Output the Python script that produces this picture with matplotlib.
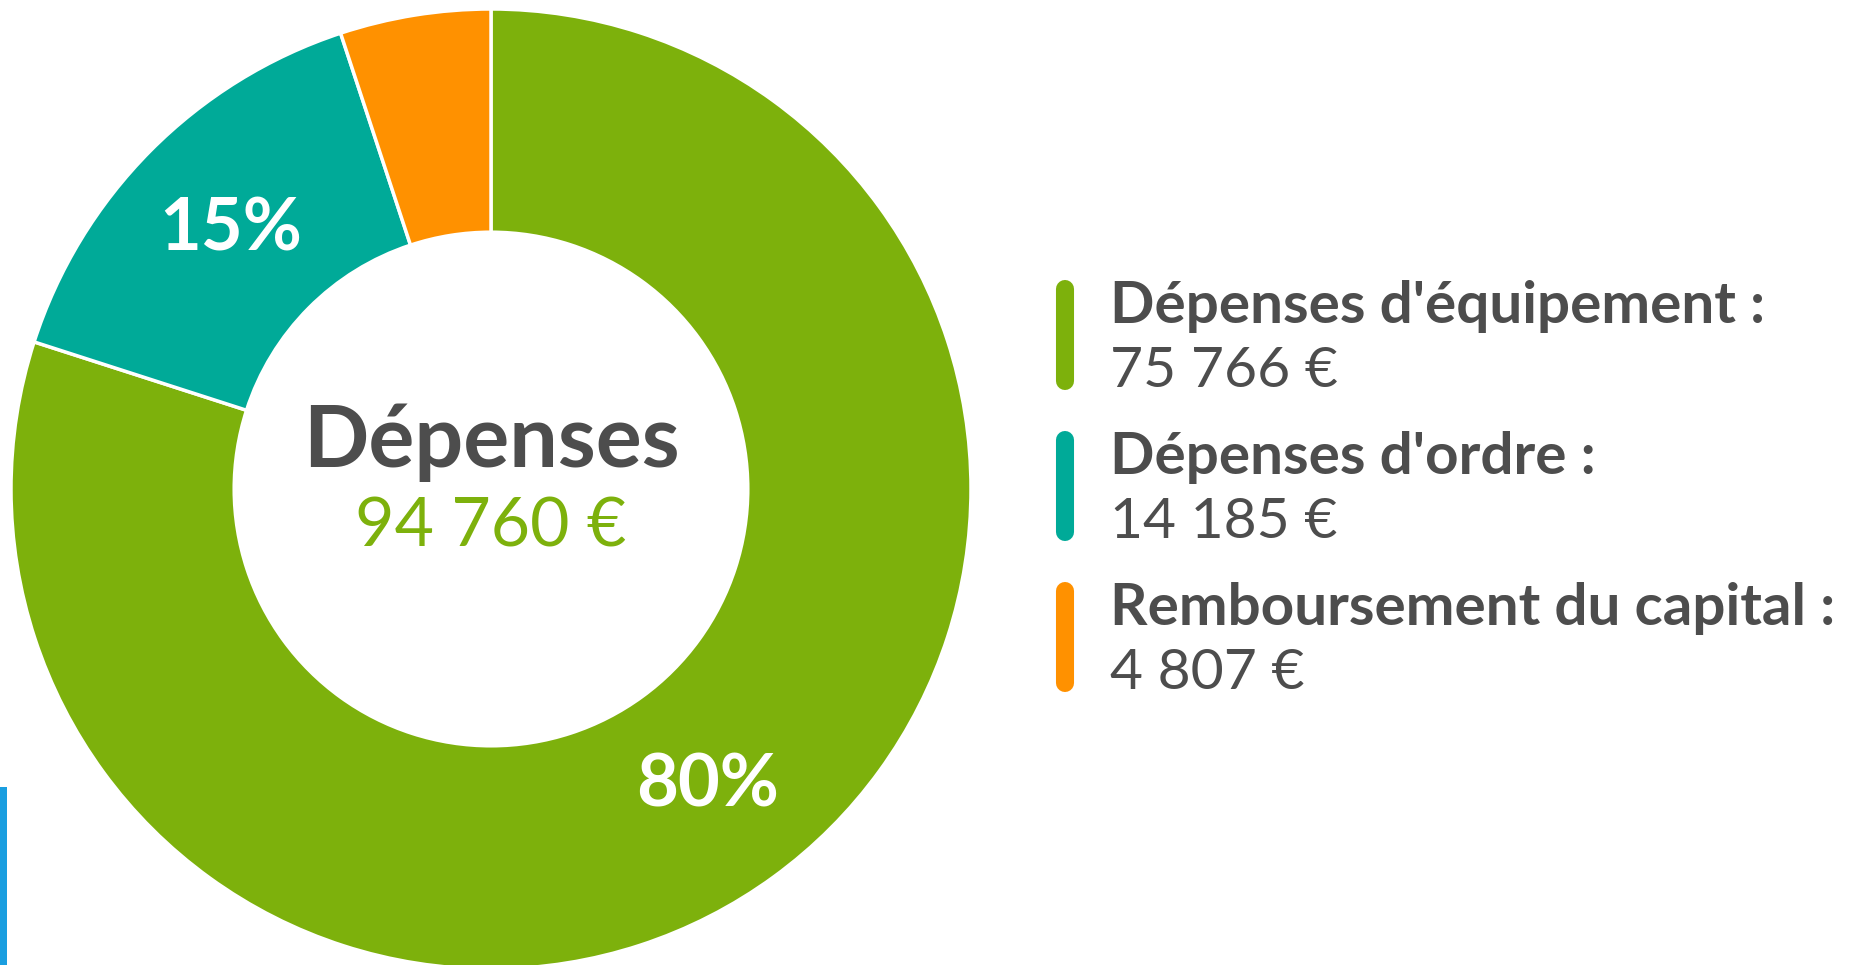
import numpy as np
import matplotlib
matplotlib.use("Agg")
import matplotlib.pyplot as plt
from matplotlib.lines import Line2D
from matplotlib.patches import Rectangle

plt.rcParams['font.family'] = ['Lato', 'DejaVu Sans']

# data
categories = ["Dépenses d'équipement", "Dépenses d'ordre", "Remboursement du capital"]
values = [75766, 14185, 4807]
value_labels = ["75 766 €", "14 185 €", "4 807 €"]
pct_labels = ["80%", "15%", ""]
colors = ["#7db10c", "#00aa98", "#ff9100"]
total_label = "94 760 €"

W, H = 1855, 965
fig = plt.figure(figsize=(W / 100, H / 100), dpi=100)
fig.patch.set_facecolor("white")

# donut
cx, cy, R = 491, 489, 480
ax = fig.add_axes([(cx - R) / W, (H - cy - R) / H, 2 * R / W, 2 * R / H])
ax.pie(values, colors=colors, startangle=90, counterclock=False, radius=1.0,
       wedgeprops=dict(width=0.465, edgecolor="white", linewidth=2.5))
ax.set_xlim(-1, 1)
ax.set_ylim(-1, 1)
ax.set_aspect("equal")
ax.axis("off")

# percentage labels at middle of the ring
fracs = np.array(values) / sum(values)
start = 90 - np.concatenate([[0], np.cumsum(fracs)[:-1]]) * 360
mid = np.deg2rad(start - fracs * 180)
for lab, a in zip(pct_labels, mid):
    if lab:
        ax.text(0.765 * np.cos(a), 0.765 * np.sin(a), lab, ha="center", va="center",
                color="white", fontsize=52, fontweight="bold")

# center text
ax.text(0, 0.045, "Dépenses", ha="center", va="baseline", color="#4d4d4d",
        fontsize=62, fontweight="bold")
ax.text(0, -0.12, total_label, ha="center", va="baseline", color=colors[0], fontsize=49)

# legend
x_bar, x_txt = 1065, 1110
top0, pitch = 280, 151
for i, (cat, val, col) in enumerate(zip(categories, value_labels, colors)):
    top = top0 + i * pitch
    fig.add_artist(Line2D([x_bar / W, x_bar / W], [(H - top - 9) / H, (H - top - 101) / H],
                          transform=fig.transFigure, color=col, linewidth=13,
                          solid_capstyle="round"))
    fig.text(x_txt / W, (H - top - 43) / H, cat + " :", ha="left", va="baseline",
             color="#4d4d4d", fontsize=42, fontweight="bold")
    fig.text(x_txt / W, (H - top - 107) / H, val, ha="left", va="baseline",
             color="#4d4d4d", fontsize=41)

# cropped blue element at bottom-left edge
fig.patches.append(Rectangle((0, 0), 7 / W, 178 / H, transform=fig.transFigure,
                             facecolor="#1a9ee0", edgecolor="none"))

fig.savefig("out.png", dpi=100, facecolor="white")
